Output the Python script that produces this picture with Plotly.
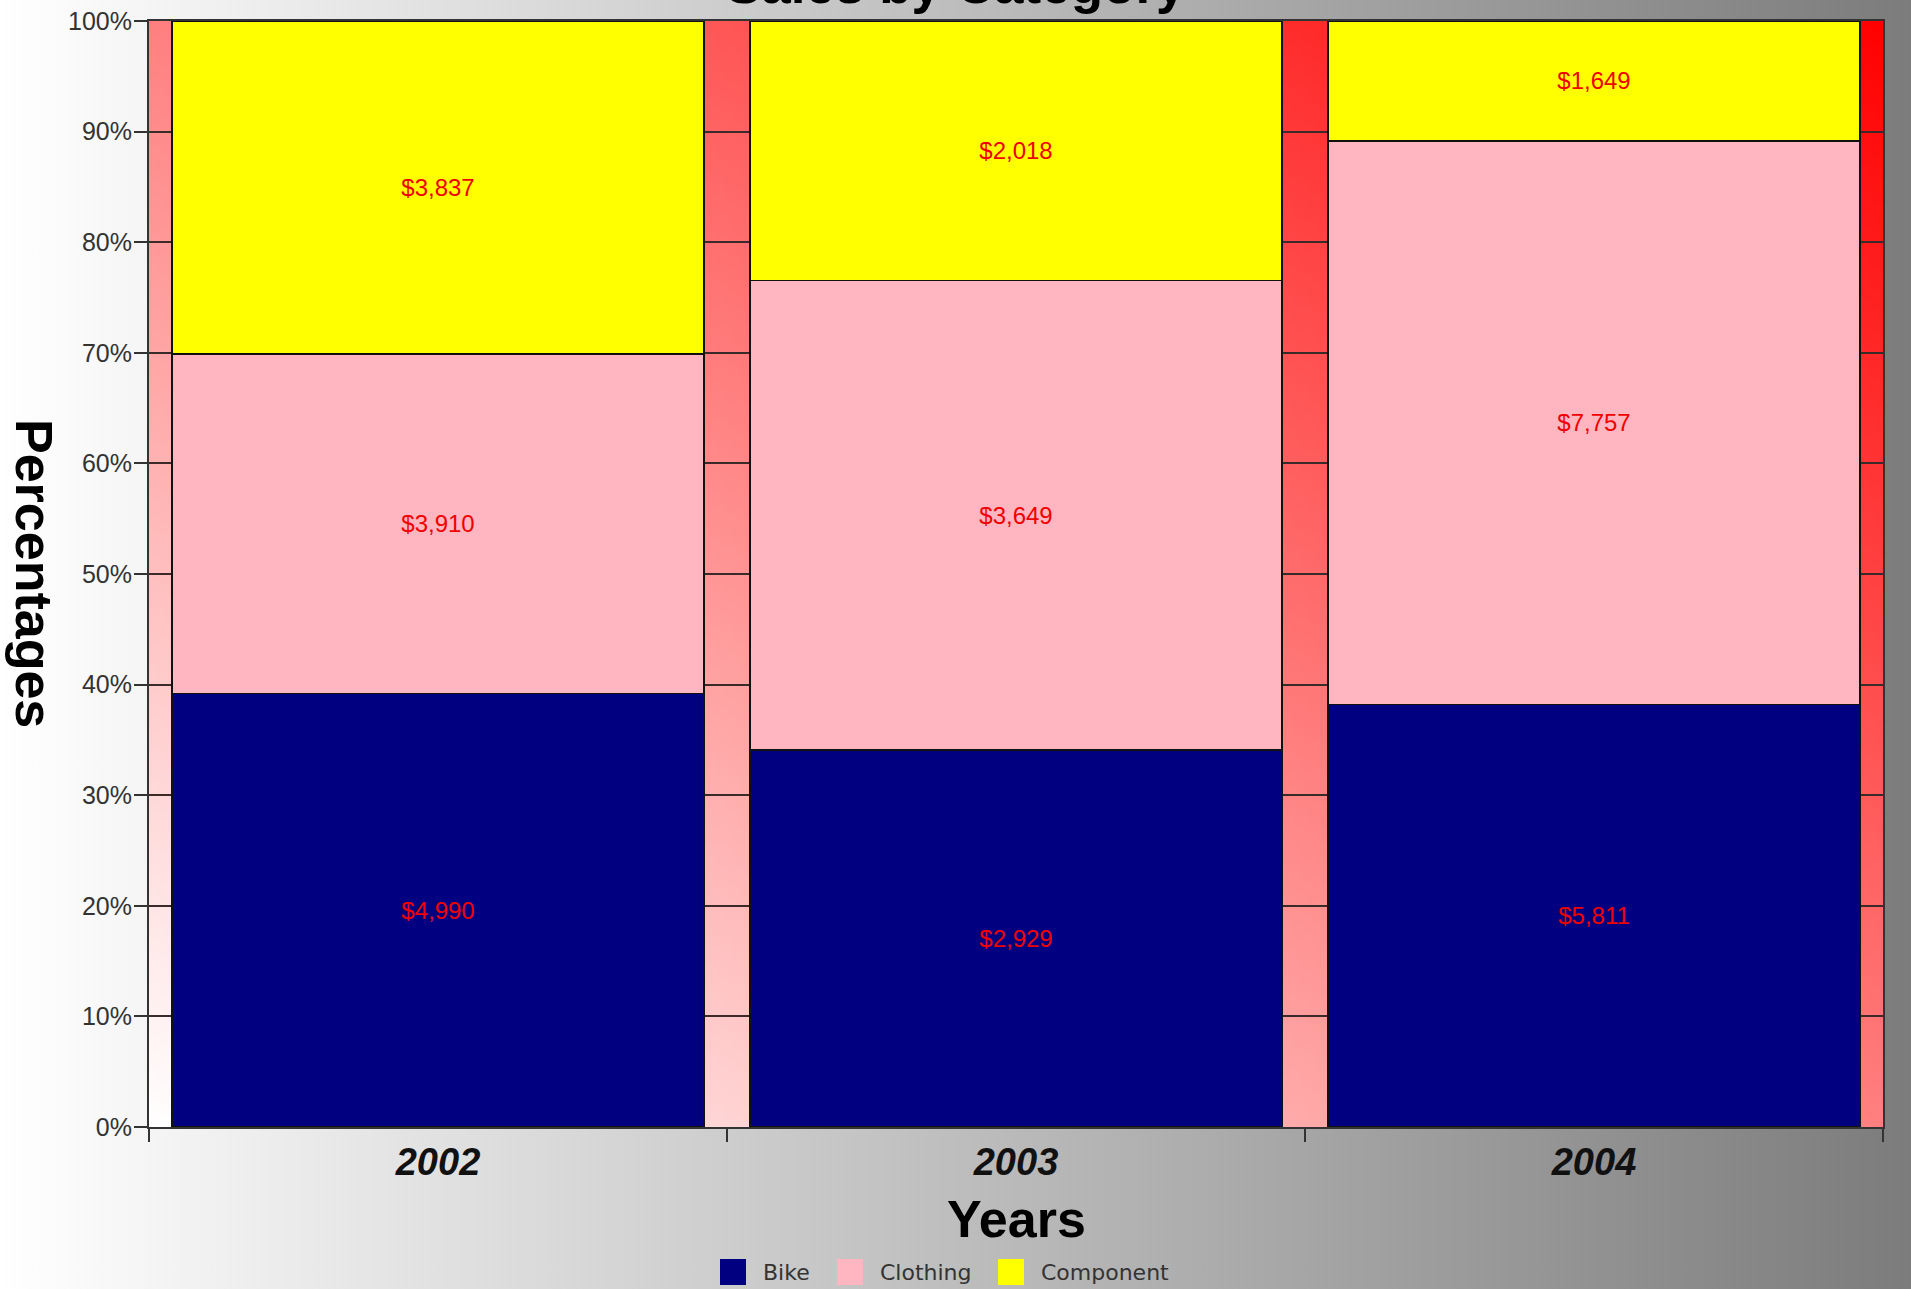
import base64
import plotly.graph_objects as go

# ---- data ----
years = ["2002", "2003", "2004"]
bike = [4990, 2929, 5811]
clothing = [3910, 3649, 7757]
component = [3837, 2018, 1649]
series_names = ["Bike", "Clothing", "Component"]
series_values = [bike, clothing, component]
series_colors = ["#000080", "#ffb6c1", "#ffff00"]
y_tick_values = list(range(0, 101, 10))
y_tick_labels = [f"{v}%" for v in y_tick_values]

# ---- layout geometry ----
W, H = 1911, 1289
ML, MR, MT, MB = 149, 28, 21, 162
PW, PH = W - ML - MR, H - MT - MB


def px(x):
    return (x - ML) / PW


def py(y):
    return (H - MB - y) / PH


def svg_uri(svg):
    return "data:image/svg+xml;base64," + base64.b64encode(svg.encode()).decode()


page_svg = (
    '<svg xmlns="http://www.w3.org/2000/svg" width="100" height="100" viewBox="0 0 100 100" '
    'preserveAspectRatio="none"><defs><linearGradient id="g" x1="0" y1="0" x2="1" y2="0">'
    '<stop offset="0" stop-color="#ffffff"/><stop offset="1" stop-color="#7c7c7c"/>'
    '</linearGradient></defs><rect width="100" height="100" fill="url(#g)"/></svg>'
)
plot_svg = (
    '<svg xmlns="http://www.w3.org/2000/svg" width="100" height="100" viewBox="0 0 100 100" '
    'preserveAspectRatio="none"><defs><linearGradient id="g" x1="0" y1="1" x2="1" y2="0">'
    '<stop offset="0" stop-color="#ffffff"/><stop offset="1" stop-color="#ff0000"/>'
    '</linearGradient></defs><rect width="100" height="100" fill="url(#g)"/></svg>'
)

fig = go.Figure()
for name, vals, color in zip(series_names, series_values, series_colors):
    fig.add_trace(go.Bar(
        x=years, y=vals, name=name,
        marker=dict(color=color, line=dict(color="#111111", width=1.5)),
        text=[f"${v:,}" for v in vals],
        textposition="inside", insidetextanchor="middle", textangle=0,
        constraintext="none",
        textfont=dict(family="Liberation Sans, Arial", size=24, color="#f00000"),
        showlegend=False,
    ))

annotations = [
    dict(text="Sales by Category", x=px(W / 2), y=1, xref="paper", yref="paper",
         xanchor="center", yanchor="bottom", showarrow=False, yshift=5,
         font=dict(family="Liberation Sans, Arial", size=53, color="#000000", weight="bold")),
    dict(text="Years", x=0.5, y=py(1219), xref="paper", yref="paper",
         xanchor="center", yanchor="middle", showarrow=False,
         font=dict(family="Liberation Sans, Arial", size=52, color="#000000", weight="bold")),
    dict(text="Percentages", x=px(34), y=py(573), xref="paper", yref="paper",
         xanchor="center", yanchor="middle", showarrow=False, textangle=90,
         font=dict(family="Liberation Sans, Arial", size=52, color="#000000", weight="bold")),
]

# manual legend (big square swatches)
legend_square_left = [720, 837, 998]
legend_sq = 26
legend_cy = 1272
shapes = []
for name, color, lx in zip(series_names, series_colors, legend_square_left):
    shapes.append(dict(type="rect", xref="paper", yref="paper",
                       x0=px(lx), x1=px(lx + legend_sq),
                       y0=py(legend_cy + legend_sq / 2), y1=py(legend_cy - legend_sq / 2),
                       fillcolor=color, line=dict(width=0)))
    annotations.append(dict(text=name, x=px(lx + legend_sq + 15), y=py(legend_cy),
                            xref="paper", yref="paper", xanchor="left", yanchor="middle",
                            showarrow=False,
                            font=dict(family="DejaVu Sans, Liberation Sans", size=22, color="#333333")))

fig.update_layout(
    width=W, height=H,
    margin=dict(l=ML, r=MR, t=MT, b=MB, autoexpand=False),
    barmode="stack", barnorm="percent", bargap=0.08,
    paper_bgcolor="#ffffff", plot_bgcolor="rgba(0,0,0,0)",
    showlegend=False,
    images=[
        dict(source=svg_uri(page_svg), xref="paper", yref="paper",
             x=-ML / PW, y=1 + MT / PH, sizex=W / PW, sizey=H / PH,
             xanchor="left", yanchor="top", sizing="stretch", layer="below"),
        dict(source=svg_uri(plot_svg), xref="paper", yref="paper",
             x=0, y=1, sizex=1, sizey=1,
             xanchor="left", yanchor="top", sizing="stretch", layer="below"),
    ],
    annotations=annotations,
    shapes=shapes,
    xaxis=dict(
        type="category", showgrid=False, zeroline=False,
        showline=True, linecolor="#333333", linewidth=2, mirror=True,
        ticks="outside", ticklen=13, tickwidth=2, tickcolor="#333333",
        tickson="boundaries",
        tickfont=dict(family="Liberation Sans, Arial", size=38, color="#111111",
                      weight="bold", style="italic"),
    ),
    yaxis=dict(
        range=[0, 100], tickmode="array", tickvals=y_tick_values, ticktext=y_tick_labels,
        showgrid=True, gridcolor="#3a2a2a", gridwidth=1.5, zeroline=False,
        showline=True, linecolor="#333333", linewidth=2, mirror=True,
        ticks="outside", ticklen=13, tickwidth=2, tickcolor="#333333",
        ticklabelstandoff=-3,
        tickfont=dict(family="Liberation Sans, Arial", size=25, color="#333333"),
    ),
)

fig.write_html(
    "out.html",
    config={"displayModeBar": False},
    post_script="document.body.style.margin='0';document.body.style.overflow='hidden';",
)
